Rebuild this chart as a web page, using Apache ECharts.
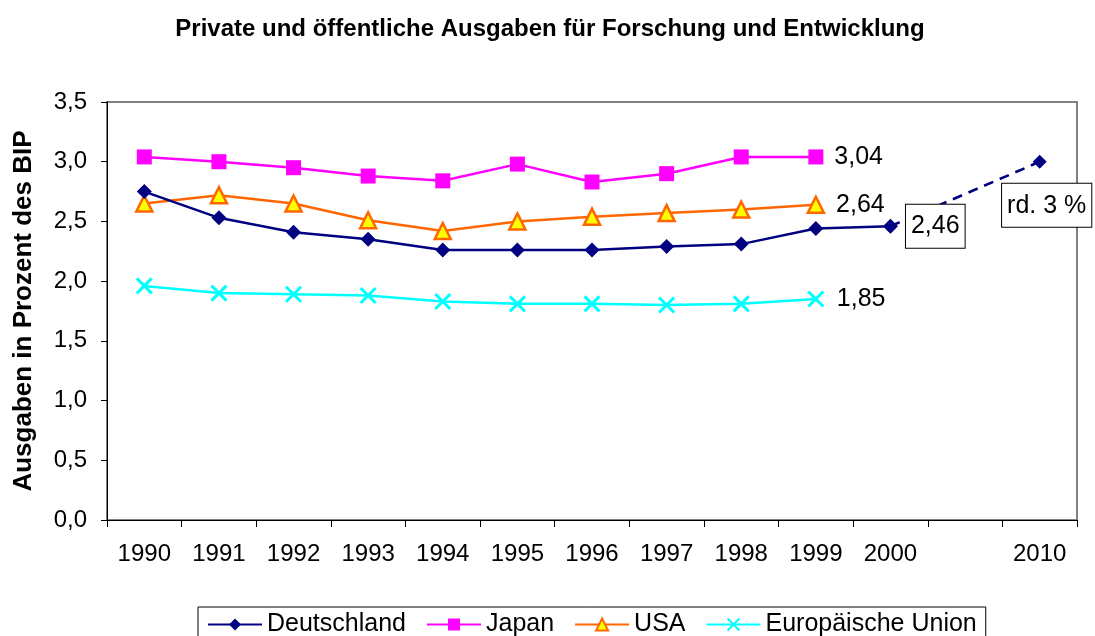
<!DOCTYPE html>
<html>
<head>
<meta charset="utf-8">
<script src="https://cdn.jsdelivr.net/npm/echarts@6/dist/echarts.min.js"></script>
<style>
  html, body { margin: 0; padding: 0; background: #fff; }
  #chart { width: 1095px; height: 636px; }
</style>
</head>
<body>
<div id="chart"></div>
<script>
  // Jahre (leere Kategorie als Lücke zwischen 2000 und 2010)
  const years = ['1990', '1991', '1992', '1993', '1994', '1995', '1996', '1997', '1998', '1999', '2000', '', '2010']
  const deutschland = [2.75, 2.53, 2.41, 2.35, 2.26, 2.26, 2.26, 2.29, 2.31, 2.44, 2.46]
  const deutschlandZiel = [null, null, null, null, null, null, null, null, null, null, 2.46, null, 3.0]
  const japan = [3.04, 3.00, 2.95, 2.88, 2.84, 2.98, 2.83, 2.90, 3.04, 3.04]
  const usa = [2.65, 2.72, 2.65, 2.51, 2.42, 2.50, 2.54, 2.57, 2.60, 2.64]
  const eu = [1.96, 1.90, 1.89, 1.88, 1.83, 1.81, 1.81, 1.80, 1.81, 1.85]
  const legendNames = ['Deutschland', 'Japan', 'USA', 'Europäische Union']

  const font = 'Arial, "Liberation Sans", sans-serif'
  const komma = v => v.toFixed(2).replace('.', ',')
  const crossPath = 'path://M0,0L10,10M10,0L0,10'

  // Beschriftung nur am letzten Punkt einer Reihe
  const lastLabel = arr => arr.map((v, i) => i === arr.length - 1
    ? { value: v, label: { show: true, position: 'right', distance: 11, formatter: komma(v), fontSize: 25, color: '#000', fontFamily: font } }
    : v)

  const chart = echarts.init(document.getElementById('chart'))
  chart.setOption({
    animation: false,
    title: {
      text: 'Private und öffentliche Ausgaben für Forschung und Entwicklung',
      left: 545,
      textAlign: 'center',
      top: 12,
      textStyle: { fontSize: 24, fontWeight: 'bold', color: '#000', fontFamily: font }
    },
    grid: {
      left: 107, right: 18, top: 102, bottom: 116,
      show: true, borderColor: '#808080', borderWidth: 2
    },
    legend: {
      data: legendNames,
      left: 198,
      top: 607,
      padding: [5, 9, 8, 9],
      borderColor: '#000',
      borderWidth: 1,
      itemWidth: 54,
      itemHeight: 15,
      itemGap: 20,
      textStyle: { fontSize: 25, color: '#000', fontFamily: font }
    },
    xAxis: {
      type: 'category',
      data: years,
      boundaryGap: true,
      axisLine: { lineStyle: { color: '#000', width: 1 } },
      axisTick: { show: true, length: 7, interval: 0, lineStyle: { color: '#000' } },
      axisLabel: { interval: 0, fontSize: 24, color: '#000', margin: 22, fontFamily: font },
      splitLine: { show: false }
    },
    yAxis: {
      type: 'value',
      min: 0, max: 3.5, interval: 0.5,
      name: 'Ausgaben in Prozent des BIP',
      nameLocation: 'middle',
      nameGap: 70,
      nameTextStyle: { fontSize: 26, fontWeight: 'bold', color: '#000', fontFamily: font },
      axisLine: { show: true, lineStyle: { color: '#000', width: 1 } },
      axisTick: { show: true, length: 6, lineStyle: { color: '#000' } },
      axisLabel: { fontSize: 24, color: '#000', margin: 20, fontFamily: font, formatter: v => v.toFixed(1).replace('.', ',') },
      splitLine: { show: false }
    },
    series: [
      {
        name: 'Deutschland ziel',
        type: 'line',
        data: deutschlandZiel.map((v, i) => i === 12
          ? { value: v, label: { show: true, position: 'bottom', distance: 15, offset: [7, 0], formatter: 'rd. 3 %', fontSize: 25, color: '#000', fontFamily: font,
              backgroundColor: '#fff', borderColor: '#000', borderWidth: 1, padding: [10, 5, 8, 5] } }
          : v),
        connectNulls: true,
        symbol: 'diamond',
        symbolSize: 14,
        showSymbol: true,
        itemStyle: { color: '#000080' },
        lineStyle: { color: '#000080', width: 2.5, type: [10, 7] },
        z: 1
      },
      {
        name: 'Deutschland',
        type: 'line',
        data: deutschland.map((v, i) => i === 10
          ? { value: v, label: { show: true, position: 'right', distance: 8, formatter: komma(v), fontSize: 25, color: '#000', fontFamily: font,
              backgroundColor: '#fff', borderColor: '#000', borderWidth: 1, padding: [10, 5, 8, 5] } }
          : v),
        symbol: 'diamond',
        symbolSize: 15,
        itemStyle: { color: '#000080' },
        lineStyle: { color: '#000080', width: 2.5 },
        z: 4
      },
      {
        name: 'Japan',
        type: 'line',
        data: lastLabel(japan),
        symbol: 'rect',
        symbolSize: 15,
        itemStyle: { color: '#FF00FF' },
        lineStyle: { color: '#FF00FF', width: 2.5 },
        z: 3
      },
      {
        name: 'USA',
        type: 'line',
        data: lastLabel(usa),
        symbol: 'triangle',
        symbolSize: 16,
        itemStyle: { color: '#FFFF00', borderColor: '#FF6600', borderWidth: 2.5 },
        lineStyle: { color: '#FF6600', width: 2.5 },
        z: 3
      },
      {
        name: 'Europäische Union',
        type: 'line',
        data: lastLabel(eu),
        symbol: crossPath,
        symbolSize: 15,
        itemStyle: { color: 'none', borderColor: '#00FFFF', borderWidth: 3 },
        lineStyle: { color: '#00FFFF', width: 2.5 },
        z: 3
      }
    ]
  })
</script>
</body>
</html>
